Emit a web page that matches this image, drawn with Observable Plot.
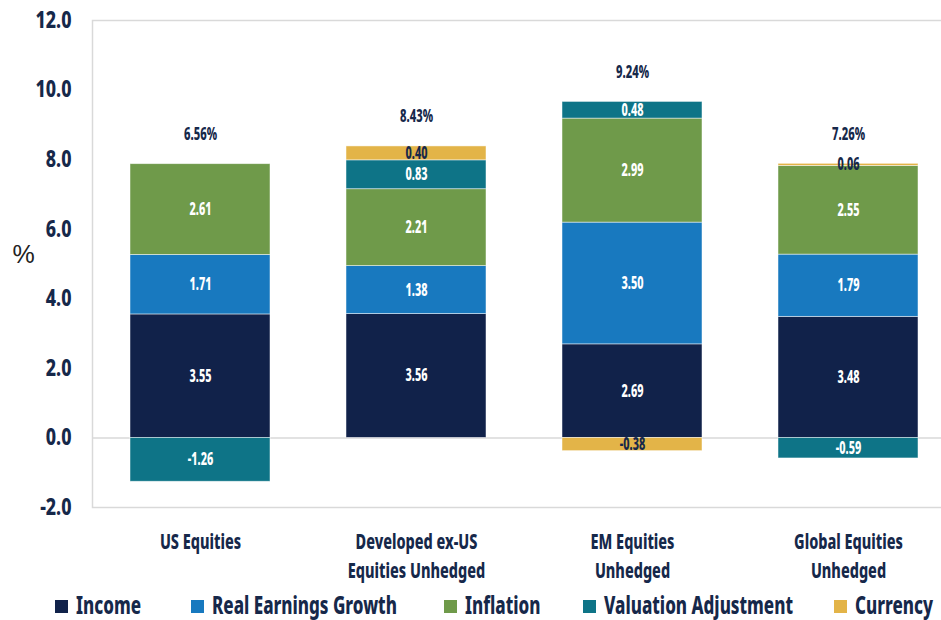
<!DOCTYPE html>
<html>
<head>
<meta charset="utf-8">
<script src="https://cdn.jsdelivr.net/npm/d3@7"></script>
<script src="https://cdn.jsdelivr.net/npm/@observablehq/plot@0.6"></script>
<style>
  html, body { margin: 0; padding: 0; background: #fff; overflow: hidden; }
  #chart { width: 941px; }
  #chart svg { display: block; }
</style>
</head>
<body>
<div id="chart"></div>
<script>
const categories = ["US Equities", "Developed ex-US Equities Unhedged", "EM Equities Unhedged", "Global Equities Unhedged"];
const categoryLabels = ["US Equities", "Developed ex-US\nEquities Unhedged", "EM Equities\nUnhedged", "Global Equities\nUnhedged"];
const seriesNames = ["Income", "Real Earnings Growth", "Inflation", "Valuation Adjustment", "Currency"];
const seriesColors = ["#11224a", "#1879bf", "#6f9a4a", "#0e7487", "#e3b448"];
const income = [3.55, 3.56, 2.69, 3.48];
const realEarningsGrowth = [1.71, 1.38, 3.50, 1.79];
const inflation = [2.61, 2.21, 2.99, 2.55];
const valuationAdjustment = [-1.26, 0.83, 0.48, -0.59];
const currency = [null, 0.40, -0.38, 0.06];
const totalLabels = ["6.56%", "8.43%", "9.24%", "7.26%"];
const yTicks = [-2, 0, 2, 4, 6, 8, 10, 12];

const navy = "#16284a";
const FONT = '"Noto Sans", "DejaVu Sans", sans-serif';
const STRETCH = "62.5%";
const WEIGHT = 800;

function measure(str, size, weight = WEIGHT) {
  const svg = d3.create("svg").attr("width", 10).attr("height", 10)
    .style("position", "absolute").style("left", "-9999px").style("top", "0");
  const t = svg.append("text").attr("font-family", FONT).attr("font-weight", weight)
    .attr("font-size", size).style("font-stretch", STRETCH).text(str);
  document.body.append(svg.node());
  const w = t.node().getComputedTextLength();
  svg.remove();
  return w;
}
// horizontal condensing factors so text widths match the condensed typeface of the original
const sxCat = Math.min(1, 122 / measure("Developed ex-US", 21));
const sxTick = Math.min(1, 36 / measure("12.0", 23));
const sxSeg = Math.min(1, 22 / measure("3.55", 17));
const sxTot = Math.min(1, 33 / measure("6.56%", 18));
const sxLeg = Math.min(1, 185 / measure("Real Earnings Growth", 25));

const seriesValues = [income, realEarningsGrowth, inflation, valuationAdjustment, currency];
const rows = [];
seriesNames.forEach((s, si) => {
  categories.forEach((c, ci) => {
    const v = seriesValues[si][ci];
    if (v != null) rows.push({category: c, series: s, value: v});
  });
});
const totals = categories.map((c, ci) => ({
  category: c,
  label: totalLabels[ci],
  top: d3.sum(seriesValues, arr => (arr[ci] > 0 ? arr[ci] : 0))
}));
const labelOf = new Map(categories.map((c, i) => [c, categoryLabels[i]]));

const chart = Plot.plot({
  width: 941,
  height: 585,
  marginLeft: 92,
  marginRight: -15,
  marginTop: 20,
  marginBottom: 78,
  style: {fontFamily: FONT, background: "white"},
  x: {domain: categories, paddingInner: 0.35, paddingOuter: 0.175, axis: null},
  y: {domain: [-2, 12], axis: null},
  color: {domain: seriesNames, range: seriesColors},
  marks: [
    Plot.frame({stroke: "#d9d9d9", strokeWidth: 1.5}),
    Plot.ruleY([0], {stroke: "#d9d9d9", strokeWidth: 1.5}),
    Plot.axisY(yTicks, {className: "ytick", tickSize: 0, tickPadding: 21, tickFormat: d => d.toFixed(1), fontSize: 23, fontWeight: WEIGHT, fill: navy}),
    Plot.barY(rows, {x: "category", y: "value", fill: "series", stroke: "white", strokeOpacity: 0.6, strokeWidth: 0.8}),
    Plot.text(rows, Plot.stackY({
      className: "seglab",
      x: "category", y: "value",
      text: d => d.value.toFixed(2),
      fill: {value: d => d.series === "Currency" ? navy : "white", scale: null},
      fontSize: 17, fontWeight: WEIGHT
    })),
    Plot.text(totals, {className: "totlab", x: "category", y: "top", text: "label", dy: -30, fontSize: 18, fontWeight: WEIGHT, fill: navy}),
    Plot.text(categories, {className: "catlab", x: d => d, text: d => labelOf.get(d), frameAnchor: "bottom", lineAnchor: "top", dy: 21, fontSize: 21, lineHeight: 1.38, fontWeight: WEIGHT, fill: navy}),
    Plot.text(["%"], {text: d => d, frameAnchor: "left", textAnchor: "middle", dx: -69, dy: -9, fontSize: 25, fill: "#222", fontFamily: '"Liberation Sans", Arial, sans-serif'})
  ]
});
chart.style.fontStretch = STRETCH;
document.getElementById("chart").append(chart);

function condense(root, cls, sx) {
  root.querySelectorAll(`g.${cls} text`).forEach(t => {
    const tr = t.getAttribute("transform") || "";
    t.setAttribute("transform", `${tr} scale(${sx},1)`);
  });
}
condense(chart, "ytick", sxTick);
condense(chart, "seglab", sxSeg);
condense(chart, "totlab", sxTot);
condense(chart, "catlab", sxCat);

// legend below the plot
const legendX = [55, 191, 444, 583, 834];
const legend = d3.create("svg").attr("width", 941).attr("height", 35)
  .style("font-family", FONT).style("font-stretch", STRETCH);
const items = legend.selectAll("g").data(seriesNames).join("g")
  .attr("transform", (d, i) => `translate(${legendX[i]},0)`);
items.append("rect").attr("x", 0).attr("y", 15).attr("width", 13).attr("height", 13)
  .attr("fill", (d, i) => seriesColors[i]);
items.append("text")
  .attr("class", "leglab")
  .attr("transform", `translate(21,20) scale(${sxLeg},1)`)
  .attr("dy", "0.36em")
  .attr("font-size", 25).attr("font-weight", WEIGHT).attr("fill", navy)
  .text(d => d);
document.getElementById("chart").append(legend.node());
</script>
</body>
</html>
